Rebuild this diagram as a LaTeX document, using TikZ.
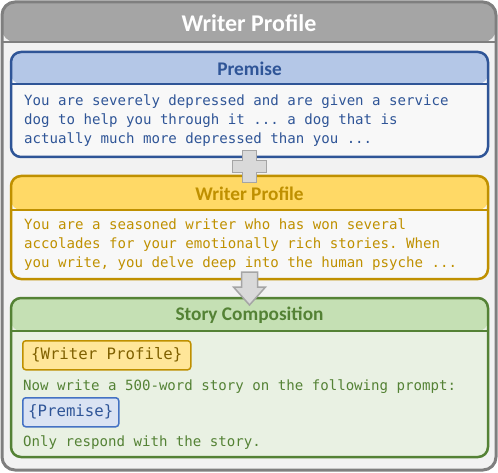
\documentclass[tikz,border=0pt]{standalone}
\usepackage{fontspec}
\setmainfont{Carlito}
\setmonofont{DejaVu Sans Mono}
\usepackage{tikz}
\usetikzlibrary{positioning, calc}

\definecolor{frameedge}{HTML}{7F7F7F}
\definecolor{framehead}{HTML}{A5A5A5}
\definecolor{frameback}{HTML}{F2F2F2}
\definecolor{premedge}{HTML}{2F5597}
\definecolor{premhead}{HTML}{B4C7E7}
\definecolor{premback}{HTML}{F8F8F8}
\definecolor{profedge}{HTML}{BF9000}
\definecolor{profhead}{HTML}{FFD966}
\definecolor{storyedge}{HTML}{548235}
\definecolor{storyhead}{HTML}{C5E0B4}
\definecolor{storyback}{HTML}{E9F1E3}
\definecolor{profslot}{HTML}{FFE699}
\definecolor{proftext}{HTML}{7F6000}
\definecolor{premslot}{HTML}{DAE3F3}
\definecolor{premslotedge}{HTML}{4472C4}
\definecolor{linkfill}{HTML}{D9D9D9}
\definecolor{linkedge}{HTML}{A5A5A5}

\tikzset{
  panel/.style n args={4}{draw=#1, fill=#3, line width=2.5pt, rounded corners=10pt,
    anchor=north west, inner sep=0pt, outer sep=0pt,
    path picture={
      \fill[#2] (path picture bounding box.north west) rectangle ([yshift=-#4]path picture bounding box.north east);
      \draw[#1, line width=2.5pt] ([yshift=-#4]path picture bounding box.north west) -- ([yshift=-#4]path picture bounding box.north east);
    }},
  heading/.style={font=\fontsize{19.3}{22}\selectfont\bfseries},
  body/.style={font=\fontsize{14.1}{19}\selectfont\ttfamily, align=left, anchor=north west, inner sep=0pt},
  slot/.style={line width=1.5pt, rounded corners=3pt, anchor=north west, inner sep=0pt,
    minimum height=29pt, font=\fontsize{15.7}{18}\selectfont\ttfamily},
  link/.style={fill=linkfill, draw=linkedge, line width=1.5pt, line join=miter},
}

\begin{document}
\begin{tikzpicture}[x=1pt, y=-1pt]
\useasboundingbox (0,0) rectangle (498,473);

% outer frame
\node[panel={frameedge}{framehead}{frameback}{40pt}, line width=3pt, rounded corners=13pt,
  minimum width=494pt, minimum height=468pt] (frame) at (2,2) {};
\node[heading, font=\fontsize{24}{26}\selectfont\bfseries, text=white] (frametitle)
  at ([yshift=-21pt]frame.north) {Writer Profile};

% premise
\node[panel={premedge}{premhead}{premback}{32pt}, minimum width=477pt, minimum height=105pt] (premise) at (11,52) {};
\node[heading, text=premedge] (premisetitle) at ([yshift=-16.5pt]premise.north) {Premise};
\node[body, text=premedge] (premisetext) at (24,95)
  {You are severely depressed and are given a service\\
   dog to help you through it ... a dog that is\\
   actually much more depressed than you ...};

% writer profile
\node[panel={profedge}{profhead}{premback}{34pt}, minimum width=477pt, minimum height=103pt] (profile) at (11,176) {};
\node[heading, text=profedge] (profiletitle) at ([yshift=-17.5pt]profile.north) {Writer Profile};
\node[body, text=profedge] (profiletext) at (24,219)
  {You are a seasoned writer who has won several\\
   accolades for your emotionally rich stories. When\\
   you write, you delve deep into the human psyche ...};

% story composition
\node[panel={storyedge}{storyhead}{storyback}{33pt}, minimum width=477pt, minimum height=159pt] (story) at (11,298) {};
\node[heading, text=storyedge] (storytitle) at ([yshift=-17pt]story.north) {Story Composition};
\node[slot, draw=profedge, fill=profslot, text=proftext, minimum width=168pt] (profileslot)
  at (22,340) {\{Writer Profile\}};
\node[body, text=storyedge] (storyask) at ([xshift=1pt, yshift=-9pt]profileslot.south west)
  {Now write a 500-word story on the following prompt:};
\node[slot, draw=premslotedge, fill=premslot, text=premedge, minimum width=96pt] (premiseslot)
  at (22,397) {\{Premise\}};
\node[body, text=storyedge] (storyend) at ([xshift=1pt, yshift=-8pt]premiseslot.south west)
  {Only respond with the story.};

% plus between premise and profile
\coordinate (join) at ($(premise.south)!0.5!(profile.north)$);
\draw[link] (join) ++(-7,-16) -- ++(14,0) -- ++(0,10) -- ++(10,0) -- ++(0,12) -- ++(-10,0)
  -- ++(0,10) -- ++(-14,0) -- ++(0,-10) -- ++(-10,0) -- ++(0,-12) -- ++(10,0) -- cycle;

% arrow from profile to story
\draw[link] (profile.south) ++(-8,-7) -- ++(16,0) -- ++(0,15) -- ++(8,0) -- ++(-16,18)
  -- ++(-16,-18) -- ++(8,0) -- cycle;
\end{tikzpicture}
\end{document}
